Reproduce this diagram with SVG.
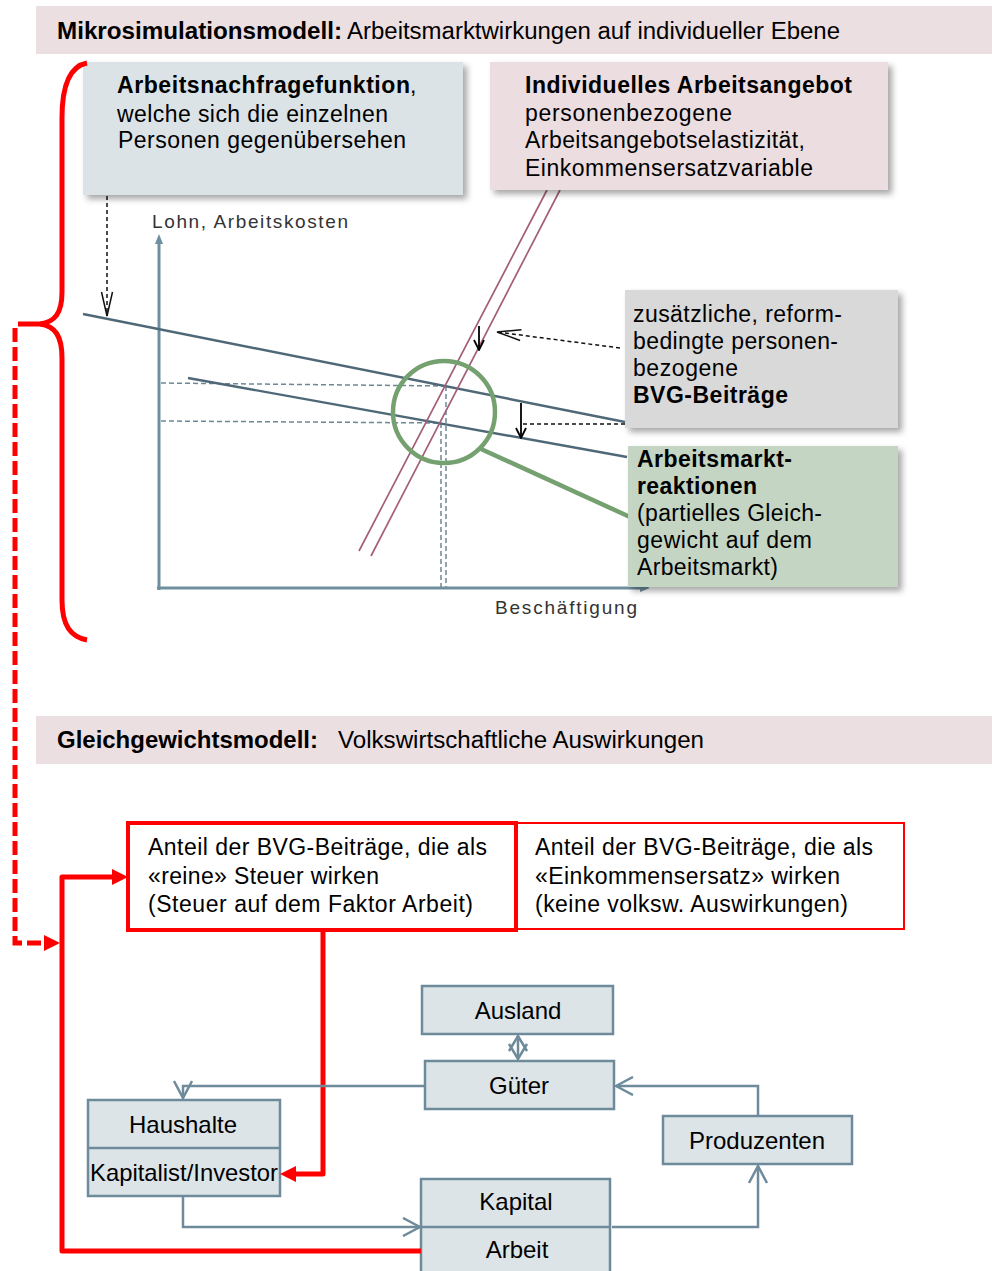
<svg xmlns="http://www.w3.org/2000/svg" width="992" height="1271" viewBox="0 0 992 1271">
<style>
text{font-family:"Liberation Sans",Arial,sans-serif;font-size:23px;fill:#000}
.b{font-weight:bold}
.ax{font-size:19px;fill:#333}
.ctr{text-anchor:middle;font-size:24px}
.banner{fill:#ecdfe2}
.steelbox{fill:#dde4e8;stroke:#6e8b9b;stroke-width:2.5}
.conn{fill:none;stroke:#6e8b9b;stroke-width:2.5;marker-end:url(#vSteel)}
.red{fill:none;stroke:#ff0000;stroke-width:5}
.dem{stroke:#4f6878;stroke-width:2.4;fill:none}
.sup{stroke:#a45f78;stroke-width:1.7;fill:none}
.help{stroke:#6d8797;stroke-width:1.5;stroke-dasharray:5 3;fill:none}
.blackdash{stroke:#111;stroke-width:1.5;stroke-dasharray:4 3;fill:none}
</style>
<defs>
<filter id="sh" x="-5%" y="-5%" width="115%" height="120%">
<feDropShadow dx="4" dy="4" stdDeviation="3" flood-color="#000" flood-opacity="0.35"/>
</filter>
<marker id="vBlack" markerUnits="userSpaceOnUse" markerWidth="26" markerHeight="14" viewBox="0 0 26 14" refX="25" refY="7" orient="auto"><path d="M1,1.5 L25,7 L1,12.5" fill="none" stroke="#111" stroke-width="1.5"/></marker>
<marker id="vSmall" markerUnits="userSpaceOnUse" markerWidth="12" markerHeight="12" viewBox="0 0 12 12" refX="11" refY="6" orient="auto"><path d="M1,1 L11,6 L1,11" fill="none" stroke="#000" stroke-width="1.8"/></marker>
<marker id="vSteel" markerUnits="userSpaceOnUse" markerWidth="20" markerHeight="20" viewBox="0 0 20 20" refX="18" refY="10" orient="auto"><path d="M1,1 L18,10 L1,19" fill="none" stroke="#6e8b9b" stroke-width="2.5"/></marker>
<marker id="vSteelS" markerUnits="userSpaceOnUse" markerWidth="20" markerHeight="20" viewBox="0 0 20 20" refX="18" refY="10" orient="auto-start-reverse"><path d="M3,1 L18,10 L3,19" fill="none" stroke="#6e8b9b" stroke-width="2.5"/></marker>
<marker id="triRed" markerUnits="userSpaceOnUse" markerWidth="16" markerHeight="16" viewBox="0 0 16 16" refX="0" refY="8" orient="auto"><path d="M0,0 L16,8 L0,16 Z" fill="#ff0000"/></marker>
<marker id="triAxis" markerUnits="userSpaceOnUse" markerWidth="10" markerHeight="10" viewBox="0 0 10 10" refX="0" refY="5" orient="auto"><path d="M0,1 L10,5 L0,9 Z" fill="#6f8fa0"/></marker>
</defs>
<rect width="992" height="1271" fill="#fff"/>

<g id="banner-micro">
<rect class="banner" x="36" y="6" width="956" height="48"/>
<text class="b" x="57" y="39" textLength="285" lengthAdjust="spacingAndGlyphs">Mikrosimulationsmodell:</text>
<text x="347" y="39" textLength="493" lengthAdjust="spacingAndGlyphs">Arbeitsmarktwirkungen auf individueller Ebene</text>
</g>

<g id="chart">
<line x1="159" y1="590" x2="159" y2="244" stroke="#6f8fa0" stroke-width="3" marker-end="url(#triAxis)"/>
<line x1="157" y1="588" x2="640" y2="588" stroke="#6f8fa0" stroke-width="3" marker-end="url(#triAxis)"/>
<text class="ax" x="152" y="228" textLength="196" lengthAdjust="spacing">Lohn, Arbeitskosten</text>
<text class="ax" x="495" y="614" textLength="142" lengthAdjust="spacing">Beschäftigung</text>
<line class="help" x1="161" y1="383" x2="446" y2="386"/>
<line class="help" x1="161" y1="421" x2="441" y2="423"/>
<line class="help" x1="446" y1="386" x2="446" y2="587"/>
<line class="help" x1="441" y1="423" x2="441" y2="587"/>
<line class="dem" x1="83" y1="314" x2="625" y2="422"/>
<line class="dem" x1="188" y1="378" x2="627" y2="457"/>
<line class="sup" x1="359" y1="551" x2="547" y2="190"/>
<line class="sup" x1="371" y1="556" x2="560" y2="190"/>
<circle cx="444" cy="412" r="51" fill="none" stroke="#75a070" stroke-width="4.5"/>
<line x1="481" y1="449" x2="630" y2="517" stroke="#75a070" stroke-width="4.5"/>
</g>

<g id="box-nachfrage">
<rect x="83" y="62" width="380" height="133" fill="#dbe3e7" filter="url(#sh)"/>
<text class="b" x="117" y="93" textLength="293" lengthAdjust="spacing">Arbeitsnachfragefunktion</text>
<text x="410" y="93">,</text>
<text x="117" y="122" textLength="271" lengthAdjust="spacing">welche sich die einzelnen</text>
<text x="118" y="148" textLength="288" lengthAdjust="spacing">Personen gegenübersehen</text>
</g>

<g id="box-angebot">
<rect x="490" y="62" width="398" height="128" fill="#ecdde0" filter="url(#sh)"/>
<text class="b" x="525" y="93" textLength="327" lengthAdjust="spacing">Individuelles Arbeitsangebot</text>
<text x="525" y="121" textLength="207" lengthAdjust="spacing">personenbezogene</text>
<text x="525" y="148" textLength="280" lengthAdjust="spacing">Arbeitsangebotselastizität,</text>
<text x="525" y="176" textLength="288" lengthAdjust="spacing">Einkommensersatzvariable</text>
</g>

<g id="box-bvg">
<rect x="625" y="290" width="273" height="138" fill="#d9d9d9" filter="url(#sh)"/>
<text x="633" y="322" textLength="209" lengthAdjust="spacing">zusätzliche, reform-</text>
<text x="633" y="349" textLength="205" lengthAdjust="spacing">bedingte personen-</text>
<text x="633" y="376" textLength="105" lengthAdjust="spacing">bezogene</text>
<text class="b" x="633" y="403" textLength="155" lengthAdjust="spacing">BVG-Beiträge</text>
</g>

<g id="box-reaktion">
<rect x="628" y="446" width="270" height="141" fill="#c4d5c3" filter="url(#sh)"/>
<text class="b" x="637" y="467" textLength="155" lengthAdjust="spacing">Arbeitsmarkt-</text>
<text class="b" x="637" y="494" textLength="120" lengthAdjust="spacing">reaktionen</text>
<text x="637" y="521" textLength="185" lengthAdjust="spacing">(partielles Gleich-</text>
<text x="637" y="548" textLength="175" lengthAdjust="spacing">gewicht auf dem</text>
<text x="637" y="575" textLength="141" lengthAdjust="spacing">Arbeitsmarkt)</text>
</g>

<g id="banner-gg">
<rect class="banner" x="36" y="716" width="956" height="48"/>
<text class="b" x="57" y="748" textLength="261" lengthAdjust="spacingAndGlyphs">Gleichgewichtsmodell:</text>
<text x="338" y="748" textLength="366" lengthAdjust="spacingAndGlyphs">Volkswirtschaftliche Auswirkungen</text>
</g>

<g id="box-ersatz">
<rect x="516" y="823" width="388" height="106" fill="#fff" stroke="#ff0000" stroke-width="2"/>
<text x="535" y="855" textLength="338" lengthAdjust="spacing">Anteil der BVG-Beiträge, die als</text>
<text x="535" y="884" textLength="305" lengthAdjust="spacing">«Einkommensersatz» wirken</text>
<text x="535" y="912" textLength="313" lengthAdjust="spacing">(keine volksw. Auswirkungen)</text>
</g>

<g id="box-steuer">
<rect x="128" y="823" width="388" height="107" fill="#fff" stroke="#ff0000" stroke-width="4"/>
<text x="148" y="855" textLength="339" lengthAdjust="spacing">Anteil der BVG-Beiträge, die als</text>
<text x="148" y="884" textLength="231" lengthAdjust="spacing">«reine» Steuer wirken</text>
<text x="148" y="912" textLength="325" lengthAdjust="spacing">(Steuer auf dem Faktor Arbeit)</text>
</g>

<g id="node-ausland">
<rect class="steelbox" x="422" y="986" width="191" height="48"/>
<text class="ctr" x="518" y="1019">Ausland</text>
</g>
<g id="node-gueter">
<rect class="steelbox" x="425" y="1061" width="189" height="48"/>
<text class="ctr" x="519" y="1094">Güter</text>
</g>
<g id="node-haushalte">
<rect class="steelbox" x="88" y="1100" width="192" height="96"/>
<line x1="88" y1="1148" x2="280" y2="1148" stroke="#6e8b9b" stroke-width="2.5"/>
<text class="ctr" x="183" y="1133">Haushalte</text>
<text class="ctr" x="184" y="1181" textLength="188" lengthAdjust="spacingAndGlyphs">Kapitalist/Investor</text>
</g>
<g id="node-produzenten">
<rect class="steelbox" x="663" y="1116" width="189" height="48"/>
<text class="ctr" x="757" y="1149">Produzenten</text>
</g>
<g id="node-faktoren">
<rect class="steelbox" x="421" y="1179" width="189" height="100"/>
<line x1="421" y1="1227" x2="610" y2="1227" stroke="#6e8b9b" stroke-width="2.5"/>
<text class="ctr" x="516" y="1210">Kapital</text>
<text class="ctr" x="517" y="1258">Arbeit</text>
</g>

<g id="connectors">
<line class="blackdash" x1="107" y1="196" x2="107" y2="316" marker-end="url(#vBlack)"/>
<line class="blackdash" x1="620" y1="348" x2="497" y2="332" marker-end="url(#vBlack)"/>
<line x1="479" y1="326" x2="479" y2="350" stroke="#000" stroke-width="1.8" marker-end="url(#vSmall)"/>
<line class="blackdash" x1="523" y1="424" x2="625" y2="424"/>
<line x1="521" y1="403" x2="521" y2="438" stroke="#000" stroke-width="1.8" marker-end="url(#vSmall)"/>
<path class="red" d="M87,63 C71,66 62,84 62,118 L62,292 C62,313 55,322 40,324 L18,324"/>
<path class="red" d="M40,324 C55,326 62,336 62,358 L62,600 C62,626 71,637 87,640"/>
<path class="red" d="M15,328 V943 H44" stroke-dasharray="14 5" marker-end="url(#triRed)"/>
<path class="red" d="M421,1251 H62 V877 H112" stroke-linejoin="round" marker-end="url(#triRed)"/>
<path class="red" d="M323,930 V1174 H296" stroke-linejoin="round" marker-end="url(#triRed)"/>
<path class="conn" d="M425,1086 H183 V1098"/>
<path class="conn" d="M758,1116 V1086 H616"/>
<path class="conn" d="M183,1197 V1227 H420"/>
<path class="conn" d="M612,1227 H758 V1166"/>
<line x1="518" y1="1036" x2="518" y2="1059" stroke="#6e8b9b" stroke-width="2.5" marker-start="url(#vSteelS)" marker-end="url(#vSteelS)"/>
</g>
</svg>
